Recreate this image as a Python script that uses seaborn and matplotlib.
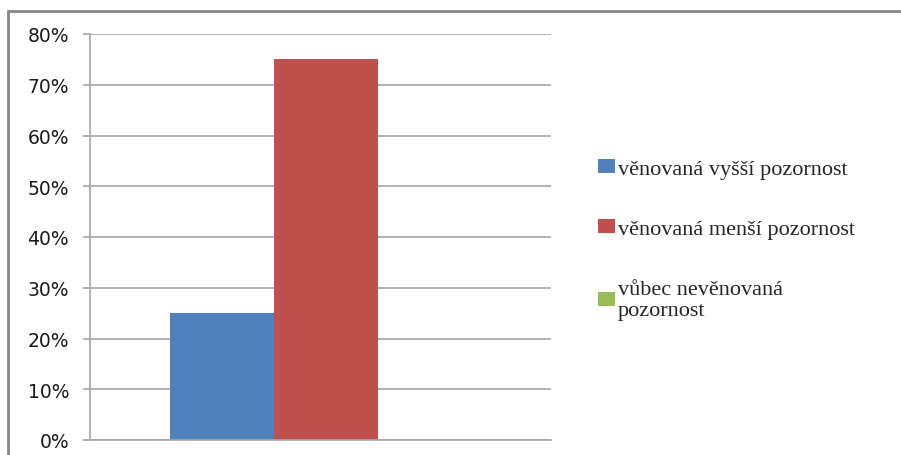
import pandas as pd
import matplotlib.pyplot as plt
import seaborn as sns
from matplotlib.patches import Rectangle
from matplotlib.ticker import PercentFormatter

# data
series = ["věnovaná vyšší pozornost", "věnovaná menší pozornost", "vůbec nevěnovaná\npozornost"]
values = [25, 75, 0]
colors = ["#4F81BD", "#C0504D", "#9BBB59"]

df = pd.DataFrame({"group": [""] * 3, "serie": series, "value": values})

sns.set_style("white")
plt.rcParams["font.family"] = ["DejaVu Sans"]

fig = plt.figure(figsize=(9.01, 4.56), dpi=100)
ax = fig.add_axes([90 / 901, 1 - 441 / 456, (551 - 90) / 901, (441 - 35) / 456])

sns.barplot(data=df, x="group", y="value", hue="serie", palette=colors,
            width=0.677, saturation=1, linewidth=0, ax=ax, legend=True)

ax.set_xlim(-0.512, 0.488)
ax.set_ylim(0, 80)
ax.set_yticks(range(0, 81, 10))
ax.yaxis.set_major_formatter(PercentFormatter(decimals=0))
ax.grid(axis="y", color="#a6a6a6", linewidth=1.2)
ax.set_axisbelow(True)
ax.set_xlabel("")
ax.set_ylabel("")
ax.set_xticks([])
for side in ["top", "right"]:
    ax.spines[side].set_visible(False)
for side in ["left", "bottom"]:
    ax.spines[side].set_color("#a6a6a6")
    ax.spines[side].set_linewidth(1.2)
ax.tick_params(axis="y", length=5, color="#a6a6a6", width=1.2, labelsize=13.5,
               labelcolor="#1a1a1a", pad=10, left=True)

handles, labels = ax.get_legend_handles_labels()
ax.legend(handles, labels, loc="upper left", bbox_to_anchor=(598 / 901, 1 - 160 / 456),
          bbox_transform=fig.transFigure, frameon=False,
          prop={"family": "Liberation Serif", "size": 16},
          handlelength=0.75, handleheight=0.6, handletextpad=0.15,
          labelspacing=1.82, borderaxespad=0, borderpad=0)

# outer chart frame (clipped at right/bottom like the reference)
fig.patches.append(Rectangle((8 / 901, -0.2), 2, 1 - 12 / 456 + 0.2,
                             transform=fig.transFigure, fill=False,
                             edgecolor="#868686", linewidth=2))

fig.savefig("out.png", dpi=100)
